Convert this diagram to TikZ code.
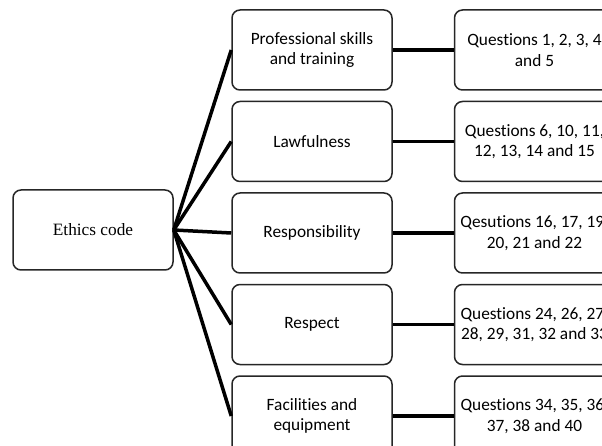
\documentclass[tikz,border=0pt]{standalone}
\usepackage{fontspec}
\setmainfont{Liberation Serif}
\newfontfamily\calibri[Ligatures=NoCommon]{Carlito}
\usetikzlibrary{positioning}

\begin{document}
\begin{tikzpicture}[x=1pt, y=-1pt,
  box/.style={draw=black!85, line width=1.5pt, rounded corners=8pt, fill=white, align=center,
    minimum width=160pt, minimum height=80pt, inner sep=2pt, font=\calibri\fontsize{17.3}{20.5}\selectfont},
  link/.style={line width=3.5pt}]
  \useasboundingbox (0,0) rectangle (602,446);
  \clip (0,0) rectangle (602,446);
  % root
  \node[box, font=\fontsize{17.3}{20}\selectfont] (ethics) at (93,230) {Ethics code};
  % the five areas
  \node[box] (skills) at (312,50) {Professional skills\\ and training};
  \node[box, below=10pt of skills] (law) {Lawfulness};
  \node[box, below=10pt of law] (resp) {Responsibility};
  \node[box, below=10pt of resp] (respect) {Respect};
  \node[box, below=10pt of respect] (equip) {Facilities and\\ equipment};
  % questions for each area
  \node[box, right=61pt of skills] (qskills) {Questions 1, 2, 3, 4\\ and 5};
  \node[box, right=61pt of law] (qlaw) {Questions 6, 10, 11,\\ 12, 13, 14 and 15};
  \node[box, right=61pt of resp] (qresp) {Qesutions 16, 17, 19,\\ 20, 21 and 22};
  \node[box, right=61pt of respect] (qrespect) {Questions 24, 26, 27,\\ 28, 29, 31, 32 and 33};
  \node[box, right=61pt of equip] (qequip) {Questions 34, 35, 36,\\ 37, 38 and 40};
  \foreach \n in {skills,law,resp,respect,equip} {
    \draw[link] (ethics.east) -- (\n.west);
    \draw[link] (\n) -- (q\n);
  }
\end{tikzpicture}
\end{document}
